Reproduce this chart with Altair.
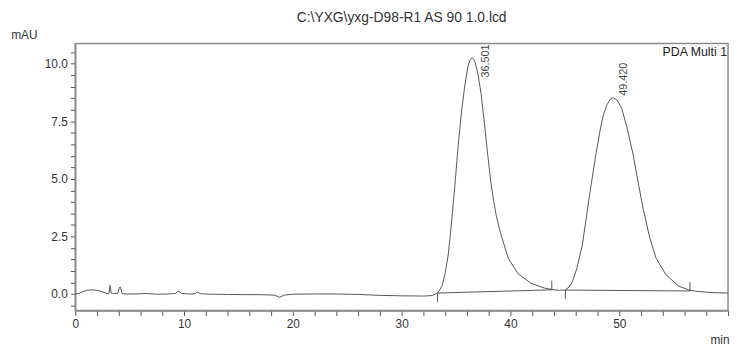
import altair as alt
import pandas as pd

# ---- chromatogram trace (time in min, signal in mAU) ----
time_min = [0.0, 0.3, 0.7, 1.1, 1.6, 2.1, 2.6, 3.0, 3.1, 3.2, 3.3, 3.5, 3.9, 4.05, 4.15, 4.3,
            4.6, 5.5, 6.5, 7.5, 8.5, 9.2, 9.45, 9.8, 10.5, 11.0, 11.2, 11.5, 12.5, 14.0,
            15.5, 17.0, 18.3, 18.8, 19.2, 20.0, 22.0, 24.0, 26.0, 28.0, 30.0, 32.0, 32.8,
            33.3, 33.7, 34.0, 34.3, 34.6, 34.9, 35.2, 35.5, 35.8, 36.1, 36.3, 36.5, 36.7,
            37.0, 37.3, 37.6, 37.9, 38.2, 38.45, 38.7, 38.95, 39.2, 39.8, 40.7, 41.9, 43.1,
            44.0, 44.5, 45.0, 45.4, 45.7, 46.1, 46.6, 47.0, 47.4, 47.8, 48.2, 48.5, 48.85,
            49.15, 49.45, 49.8, 50.2, 50.7, 51.3, 51.7, 52.2, 52.8, 53.4, 54.3, 55.5, 56.4,
            57.0, 58.5, 60.0]
signal_mau = [0.0, 0.02, 0.1, 0.16, 0.18, 0.15, 0.08, 0.0, 0.02, 0.38, 0.04, 0.02, 0.03, 0.28,
              0.3, 0.02, 0.0, 0.0, 0.02, -0.01, 0.0, 0.02, 0.13, 0.02, 0.0, 0.01, 0.09, 0.01,
              -0.01, -0.02, -0.03, -0.03, -0.05, -0.14, -0.05, -0.01, 0.0, 0.0, -0.02, -0.06,
              -0.08, -0.09, -0.07, 0.04, 0.33, 0.9, 1.76, 3.18, 4.76, 6.47, 7.9, 9.04, 9.9,
              10.18, 10.26, 10.15, 9.6, 8.7, 7.45, 6.1, 4.85, 4.05, 3.4, 2.9, 2.47, 1.55,
              0.88, 0.46, 0.26, 0.18, 0.16, 0.17, 0.3, 0.54, 1.11, 2.11, 3.4, 4.69, 5.9,
              7.0, 7.7, 8.2, 8.45, 8.52, 8.42, 8.1, 7.26, 6.0, 4.95, 3.7, 2.45, 1.54, 0.83,
              0.33, 0.18, 0.12, 0.06, 0.04]

# ---- integrated peaks ----
peak_rt = [36.501, 49.420]
peak_height = [10.26, 8.52]
peak_label = ["36.501", "49.420"]
peak_start_t = [33.3, 45.05]
peak_start_v = [0.04, 0.17]
peak_end_t = [43.8, 56.5]
peak_end_v = [0.18, 0.13]

# ---- axis ticks ----
x_ticks = list(range(0, 61, 2))
y_ticks = [-0.5, 0.0, 0.5, 1.0, 1.5, 2.0, 2.5, 3.0, 3.5, 4.0, 4.5, 5.0, 5.5, 6.0, 6.5,
           7.0, 7.5, 8.0, 8.5, 9.0, 9.5, 10.0, 10.5]
x_domain = [0, 60]
y_domain = [-0.72, 10.88]

title_text = "C:\\YXG\\yxg-D98-R1 AS 90 1.0.lcd"

FONT = "Liberation Sans"
TRACE = "#555555"
AXIS = "#8a8a8a"
W, H = 660, 270

trace_df = pd.DataFrame({"t": time_min, "v": signal_mau})
peaks_df = pd.DataFrame({
    "rt": peak_rt, "h": peak_height, "label": peak_label,
    "t0": peak_start_t, "v0": peak_start_v, "t1": peak_end_t, "v1": peak_end_v,
})

x_scale = alt.Scale(domain=x_domain, nice=False, zero=False)
y_scale = alt.Scale(domain=y_domain, nice=False, zero=False)

x_axis = alt.Axis(values=x_ticks, grid=False, title="min", titleFont=FONT,
                  titleFontSize=12, titleFontWeight="normal", titleColor="#333",
                  titleAlign="right", titleX=W + 1, titleY=29, titleBaseline="middle",
                  labelExpr="(datum.value % 10 == 0 && datum.value < 60) ? datum.label : ''",
                  labelFont=FONT, labelFontSize=12, labelColor="#333", labelPadding=3,
                  tickSize=5, tickColor="#555", domainColor=AXIS, domainWidth=1.5,
                  labelFlush=False, labelOverlap=False)
y_axis = alt.Axis(values=y_ticks, grid=False, title="mAU", titleFont=FONT,
                  titleFontSize=12, titleFontWeight="normal", titleColor="#333",
                  titleAngle=0, titleAlign="center", titleX=-52, titleY=-9,
                  titleBaseline="middle", format=".1f",
                  labelExpr="(datum.value % 2.5 == 0) ? datum.label : ''",
                  labelFont=FONT, labelFontSize=12, labelColor="#333", labelPadding=3,
                  tickSize=5, tickColor="#555", domainColor=AXIS, domainWidth=1.5,
                  labelFlush=False, labelOverlap=False)


def X(field):
    return alt.X(field, type="quantitative", scale=x_scale, axis=x_axis)


def Y(field):
    return alt.Y(field, type="quantitative", scale=y_scale, axis=y_axis)


trace = alt.Chart(trace_df).mark_line(color=TRACE, strokeWidth=1).encode(
    x=X("t"), y=Y("v"), order="t:Q")

base = alt.Chart(peaks_df)
baselines = base.mark_rule(color=TRACE, strokeWidth=1).encode(
    x=X("t0"), y=Y("v0"), x2="t1:Q", y2="v1:Q")
start_marks = base.mark_rule(color=TRACE, strokeWidth=1, y2Offset=9).encode(
    x=X("t0"), y=Y("v0"), y2="v0:Q")
end_marks = base.mark_rule(color=TRACE, strokeWidth=1, y2Offset=-9).encode(
    x=X("t1"), y=Y("v1"), y2="v1:Q")

label_offsets = [(-20, 14), (2, 11)]
labels = []
for i, (ddx, ddy) in enumerate(label_offsets):
    labels.append(
        alt.Chart(peaks_df.iloc[[i]]).mark_text(
            angle=270, align="left", baseline="middle", dx=ddx, dy=ddy,
            font=FONT, fontSize=11, color="#444").encode(
            x=X("rt"), y=Y("h"), text="label:N"))

pda = alt.Chart(pd.DataFrame({"txt": ["PDA Multi 1"]})).mark_text(
    align="right", baseline="top", font=FONT, fontSize=12.5, color="#222").encode(
    x=alt.value(W - 1), y=alt.value(3), text="txt:N")

title = alt.Chart(pd.DataFrame({"txt": [title_text]})).mark_text(
    align="center", baseline="alphabetic", font=FONT, fontSize=14, color="#333").encode(
    x=alt.value(W / 2), y=alt.value(-22), text="txt:N")

chart = alt.layer(trace, baselines, start_marks, end_marks, *labels, pda, title).properties(
    width=W, height=H,
    autosize=alt.AutoSizeParams(type="none"),
    padding={"left": 68, "top": 34, "right": 3, "bottom": 40},
).configure_view(stroke=AXIS, strokeWidth=1.5).configure_axis(labelOverlap=False)

chart.save("out.html", embed_options={"renderer": "svg", "actions": False})
